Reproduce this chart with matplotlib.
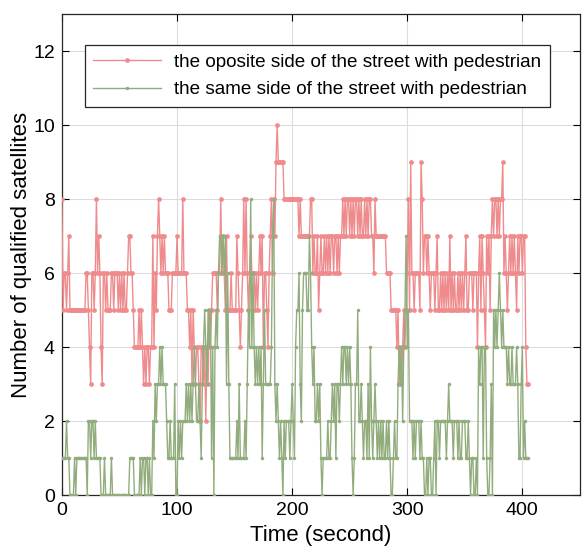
import matplotlib
matplotlib.use("Agg")
import matplotlib.pyplot as plt
import numpy as np

plt.rcParams['font.family'] = ['Liberation Sans', 'DejaVu Sans']

# number of qualified satellites, one sample per second
opposite_side = [
    8, 5, 6, 6, 5, 6, 7, 5, 5, 5,
    5, 5, 5, 5, 5, 5, 5, 5, 5, 5,
    5, 6, 6, 5, 4, 3, 6, 6, 5, 6,
    8, 6, 7, 6, 4, 3, 6, 6, 5, 6,
    5, 5, 5, 6, 6, 5, 6, 6, 6, 5,
    6, 5, 6, 5, 6, 5, 5, 6, 7, 7,
    6, 6, 5, 4, 4, 4, 4, 5, 4, 5,
    4, 3, 4, 3, 4, 4, 3, 4, 4, 7,
    4, 6, 5, 7, 8, 7, 6, 7, 6, 7,
    6, 6, 6, 5, 5, 5, 6, 6, 6, 6,
    7, 6, 6, 6, 6, 8, 6, 6, 6, 5,
    5, 4, 5, 3, 5, 4, 3, 4, 4, 3,
    2, 4, 4, 3, 4, 2, 4, 3, 5, 4,
    5, 6, 6, 6, 6, 5, 6, 6, 8, 6,
    7, 6, 5, 7, 5, 5, 5, 6, 5, 5,
    5, 5, 7, 6, 5, 4, 5, 6, 8, 6,
    8, 6, 5, 6, 7, 6, 6, 6, 5, 6,
    5, 6, 7, 6, 7, 4, 6, 6, 5, 4,
    6, 7, 8, 6, 8, 7, 9, 10, 9, 9,
    9, 9, 9, 8, 8, 8, 8, 8, 8, 8,
    8, 8, 8, 8, 8, 8, 7, 8, 7, 7,
    7, 7, 7, 7, 7, 7, 8, 8, 6, 7,
    6, 6, 7, 5, 6, 7, 6, 6, 7, 6,
    7, 6, 7, 6, 7, 7, 6, 7, 7, 6,
    7, 6, 7, 7, 8, 7, 8, 7, 8, 8,
    7, 8, 7, 8, 7, 8, 8, 7, 8, 7,
    8, 7, 7, 8, 7, 8, 7, 8, 8, 7,
    7, 6, 8, 7, 7, 7, 7, 7, 7, 7,
    7, 7, 6, 6, 6, 6, 5, 5, 5, 5,
    5, 4, 5, 3, 4, 3, 4, 5, 4, 5,
    6, 8, 5, 9, 6, 6, 5, 6, 6, 6,
    6, 5, 9, 8, 6, 7, 7, 6, 7, 6,
    5, 6, 6, 6, 5, 6, 7, 5, 5, 6,
    5, 6, 5, 6, 5, 6, 5, 7, 5, 6,
    5, 6, 5, 5, 6, 5, 6, 5, 6, 5,
    6, 7, 5, 5, 6, 6, 6, 5, 6, 6,
    6, 4, 6, 7, 5, 7, 6, 5, 4, 7,
    6, 7, 5, 7, 8, 7, 8, 8, 7, 8,
    7, 8, 8, 9, 6, 7, 6, 5, 6, 7,
    6, 7, 6, 7, 6, 5, 7, 6, 7, 7,
    6, 7, 7, 4, 3, 3,
]

same_side = [
    1, 1, 1, 1, 2, 1, 1, 0, 0, 0,
    0, 1, 0, 1, 1, 1, 1, 1, 1, 1,
    1, 1, 0, 2, 2, 1, 2, 2, 1, 2,
    1, 1, 1, 1, 0, 0, 0, 1, 0, 0,
    0, 0, 0, 1, 0, 0, 0, 0, 0, 0,
    0, 0, 0, 0, 0, 0, 0, 0, 0, 1,
    1, 1, 1, 0, 0, 0, 0, 0, 1, 0,
    1, 1, 0, 1, 1, 0, 1, 0, 0, 2,
    1, 3, 2, 3, 3, 4, 3, 4, 3, 3,
    3, 2, 1, 1, 2, 1, 1, 1, 3, 0,
    0, 2, 1, 2, 1, 2, 2, 2, 3, 2,
    3, 2, 3, 2, 3, 4, 3, 2, 2, 3,
    2, 1, 3, 4, 5, 4, 3, 5, 4, 5,
    1, 4, 0, 4, 5, 4, 6, 7, 7, 6,
    7, 6, 7, 3, 6, 3, 1, 1, 1, 1,
    1, 1, 2, 1, 3, 1, 1, 1, 1, 2,
    1, 3, 5, 4, 8, 4, 6, 4, 3, 4,
    3, 4, 3, 4, 1, 3, 5, 3, 3, 3,
    3, 3, 4, 7, 8, 3, 2, 3, 2, 1,
    2, 1, 0, 2, 1, 2, 2, 2, 1, 2,
    3, 2, 1, 4, 5, 5, 6, 3, 2, 5,
    6, 6, 6, 5, 5, 7, 6, 4, 3, 4,
    2, 2, 3, 2, 3, 1, 0, 1, 1, 1,
    1, 2, 1, 1, 2, 3, 2, 3, 1, 3,
    3, 2, 3, 4, 3, 4, 4, 3, 4, 3,
    4, 3, 1, 0, 1, 3, 3, 5, 2, 2,
    3, 2, 1, 2, 2, 1, 3, 1, 4, 2,
    1, 2, 3, 2, 1, 2, 1, 2, 1, 2,
    1, 1, 2, 1, 2, 1, 0, 0, 1, 2,
    1, 1, 3, 4, 3, 4, 2, 4, 5, 7,
    4, 5, 2, 2, 2, 1, 2, 1, 2, 2,
    2, 1, 2, 1, 1, 0, 0, 1, 0, 1,
    1, 0, 0, 1, 2, 0, 2, 2, 1, 2,
    2, 2, 2, 2, 1, 2, 3, 2, 2, 2,
    1, 2, 2, 2, 1, 2, 1, 1, 2, 2,
    2, 1, 1, 2, 1, 0, 1, 1, 0, 0,
    1, 0, 4, 3, 4, 4, 1, 4, 4, 1,
    0, 0, 1, 3, 0, 5, 4, 5, 4, 5,
    6, 5, 4, 5, 4, 4, 4, 3, 4, 3,
    3, 4, 3, 3, 3, 4, 3, 1, 1, 3,
    4, 1, 2, 1, 1, 1,
]

label_opposite = 'the oposite side of the street with pedestrian'
label_same = 'the same side of the street with pedestrian'

red = '#EF8A8D'
green = '#92AD7D'

fig = plt.figure(figsize=(5.84, 5.5), dpi=100)
ax = fig.add_axes([0.106, 0.1, 0.887, 0.8745])

t_opp = np.arange(len(opposite_side))
t_same = np.arange(len(same_side))
ax.plot(t_opp, opposite_side, color=red, lw=1.0, marker='o', markersize=3.4,
        markeredgewidth=0, label=label_opposite, zorder=3)
ax.plot(t_same, same_side, color=green, lw=1.0, marker='o', markersize=2.5,
        markeredgewidth=0, label=label_same, zorder=4)

ax.set_xlim(0, 450)
ax.set_ylim(0, 13)
ax.set_xticks([0, 100, 200, 300, 400])
ax.set_yticks([0, 2, 4, 6, 8, 10, 12])
ax.grid(True, color='#dcdcdc', lw=0.8)
ax.set_axisbelow(True)
ax.tick_params(direction='in', top=True, right=True, labelsize=14,
               length=5, width=0.8, pad=5)
for s in ax.spines.values():
    s.set_linewidth(0.9)
    s.set_color('#262626')

ax.set_xlabel('Time (second)', fontsize=16, labelpad=4)
ax.set_ylabel('Number of qualified satellites', fontsize=16, labelpad=1)

leg = ax.legend(loc='upper left', bbox_to_anchor=(0.044, 0.936),
                fontsize=13.6, fancybox=False, framealpha=1,
                edgecolor='#262626', handlelength=3.6, handletextpad=0.7,
                labelspacing=0.55, borderpad=0.45, borderaxespad=0)
leg.get_frame().set_linewidth(0.9)

plt.savefig('out.png', dpi=100)
